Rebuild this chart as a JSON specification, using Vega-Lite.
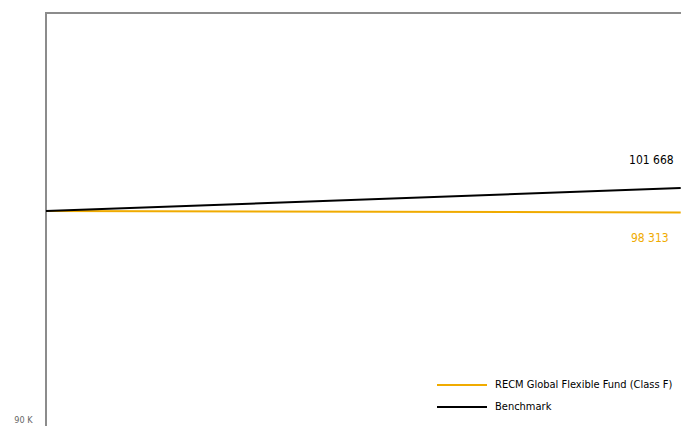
{
  "$schema": "https://vega.github.io/schema/vega-lite/v6.json",
  "autosize": {"type": "none"},
  "padding": {"left": 46, "top": 13, "right": 0, "bottom": 0},
  "width": 640,
  "height": 422,
  "config": {
    "view": {"stroke": "#8c8c8c", "strokeWidth": 2},
    "font": "DejaVu Sans Condensed, Liberation Sans, sans-serif"
  },
  "data": {
    "values": [
      {"series": "RECM Global Flexible Fund (Class F)", "t": 0, "value": 100000, "label": "98 313"},
      {"series": "RECM Global Flexible Fund (Class F)", "t": 12, "value": 99928, "label": "98 313"},
      {"series": "Benchmark", "t": 0, "value": 100000, "label": "101 668"},
      {"series": "Benchmark", "t": 12, "value": 101100, "label": "101 668"}
    ]
  },
  "encoding": {
    "x": {"field": "t", "type": "quantitative", "scale": {"domain": [0, 12.1], "nice": false, "zero": false}, "axis": null},
    "y": {"field": "value", "type": "quantitative", "scale": {"domain": [89282, 109474], "nice": false, "zero": false},
      "axis": {"values": [90000], "labelExpr": "'90 K'", "domain": false, "ticks": false, "grid": false, "labelColor": "#666666", "labelFontSize": 9, "labelPadding": 14, "title": null}}
  },
  "layer": [
    {
      "mark": {"type": "line", "strokeWidth": 2},
      "encoding": {
        "color": {"field": "series", "type": "nominal",
          "scale": {"domain": ["RECM Global Flexible Fund (Class F)", "Benchmark"], "range": ["#F0AB00", "#000000"]},
          "sort": ["RECM Global Flexible Fund (Class F)", "Benchmark"],
          "legend": {"title": null, "orient": "none", "legendX": 410, "legendY": 366, "symbolType": "M-5,0H5", "symbolSize": 100, "symbolStrokeWidth": 2, "labelFontSize": 11, "labelColor": "#000000", "labelLimit": 300, "rowPadding": 11, "padding": 0, "labelOffset": 27}},
        "order": {"field": "series", "sort": "descending"}
      }
    },
    {
      "transform": [{"filter": "datum.t == 12 && datum.series == 'Benchmark'"}],
      "mark": {"type": "text", "align": "right", "dx": -7, "dy": -28, "fontSize": 12, "color": "#000000"},
      "encoding": {"text": {"field": "label"}}
    },
    {
      "transform": [{"filter": "datum.t == 12 && datum.series != 'Benchmark'"}],
      "mark": {"type": "text", "align": "right", "dx": -12, "dy": 25, "fontSize": 12, "color": "#F0AB00"},
      "encoding": {"text": {"field": "label"}}
    }
  ]
}
